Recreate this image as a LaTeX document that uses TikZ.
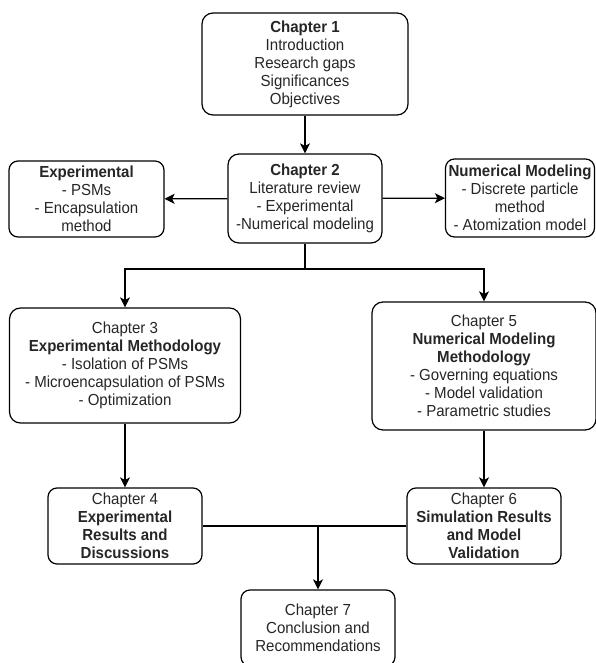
\documentclass[tikz,border=0pt]{standalone}
\usepackage{fontspec}
\setmainfont[FakeStretch=0.94]{Liberation Sans}
\usetikzlibrary{arrows.meta}
\begin{document}
\begin{tikzpicture}[x=1pt,y=-1pt,
  box/.style={draw=black, line width=1.2pt, rounded corners=11pt, align=center,
    inner sep=0pt, font=\fontsize{16}{18}\selectfont, text=black!85},
  arr/.style={draw=black, line width=1.2pt, -{Stealth[length=10pt,width=10pt,inset=2.5pt]}},
  ln/.style={draw=black, line width=1.2pt}]
\useasboundingbox (0,0) rectangle (596,663);
\clip (0,0) rectangle (596,663);
\node[box, minimum width=206pt, minimum height=102pt] (ch1) at (305,64)
  {\textbf{Chapter 1}\\Introduction\\Research gaps\\Significances\\Objectives};
\node[box, minimum width=154pt, minimum height=89pt] (ch2) at (305,198.5)
  {\textbf{Chapter 2}\\Literature review\\- Experimental\\-Numerical modeling};
\node[box, rounded corners=9pt, minimum width=155pt, minimum height=76pt] (exp) at (86.5,199)
  {\textbf{Experimental}\\- PSMs\\- Encapsulation\\method};
\node[box, rounded corners=9pt, minimum width=149pt, minimum height=78pt] (num) at (520,198)
  {\textbf{Numerical Modeling}\\- Discrete particle\\method\\- Atomization model};
\node[box, minimum width=231pt, minimum height=115pt] (ch3) at (125,365.5)
  {Chapter 3\\\textbf{Experimental Methodology}\\- Isolation of PSMs\\- Microencapsulation of PSMs\\- Optimization};
\node[box, minimum width=224pt, minimum height=128pt] (ch5) at (484,366)
  {Chapter 5\\\textbf{Numerical Modeling}\\\textbf{Methodology}\\- Governing equations\\- Model validation\\- Parametric studies};
\node[box, rounded corners=9pt, minimum width=154pt, minimum height=76pt] (ch4) at (125,526)
  {Chapter 4\\\textbf{Experimental}\\\textbf{Results and}\\\textbf{Discussions}};
\node[box, rounded corners=9pt, minimum width=154pt, minimum height=76pt] (ch6) at (484,526)
  {Chapter 6\\\textbf{Simulation Results}\\\textbf{and Model}\\\textbf{Validation}};
\node[box, rounded corners=9pt, minimum width=154pt, minimum height=76pt] (ch7) at (318,628)
  {Chapter 7\\Conclusion and\\Recommendations};
\coordinate (j1) at (305,269);
\coordinate (j2) at (318,526);
\draw[arr] (ch1) -- (ch2);
\draw[arr] (ch2) -- (exp);
\draw[arr] (ch2) -- (num);
\draw[ln] (ch2.south) -- (j1);
\draw[arr] (j1) -| (ch3.north);
\draw[arr] (j1) -| (ch5.north);
\draw[arr] (ch3) -- (ch4);
\draw[arr] (ch5) -- (ch6);
\draw[ln] (ch4) -- (ch6);
\draw[arr] (j2) -- (ch7);
\end{tikzpicture}
\end{document}
